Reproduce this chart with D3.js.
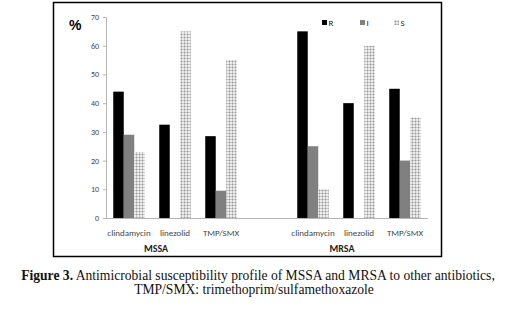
<!DOCTYPE html>
<html>
<head>
<meta charset="utf-8">
<script src="https://cdn.jsdelivr.net/npm/d3@7"></script>
<style>
  body { margin: 0; background: #fff; }
  svg { display: block; }
</style>
</head>
<body>
<svg id="chart" width="507" height="311"></svg>
<script>
// data (percent)
const groups = ["MSSA", "MRSA"];
const drugs = ["clindamycin", "linezolid", "TMP/SMX"];
const series = ["R", "I", "S"];
const yTicks = [0, 10, 20, 30, 40, 50, 60, 70];

const mssaR = [44, 32.5, 28.5];
const mssaI = [29, 0, 9.5];
const mssaS = [23, 65, 55];
const mrsaR = [65, 40, 45];
const mrsaI = [25, 0, 20];
const mrsaS = [10, 60, 35];

const values = {
  MSSA: { R: mssaR, I: mssaI, S: mssaS },
  MRSA: { R: mrsaR, I: mrsaI, S: mrsaS }
};

const svg = d3.select("#chart");

// dotted fill for the S bars
const defs = svg.append("defs");
const pat = defs.append("pattern")
  .attr("id", "dots")
  .attr("patternUnits", "userSpaceOnUse")
  .attr("width", 3).attr("height", 3);
pat.append("rect").attr("width", 3).attr("height", 3).attr("fill", "#ececec");
pat.append("rect").attr("x", 0).attr("y", 1).attr("width", 3).attr("height", 1).attr("fill", "#c6c6c6");
pat.append("rect").attr("x", 1).attr("y", 0).attr("width", 1).attr("height", 3).attr("fill", "#c6c6c6");
pat.append("rect").attr("x", 1).attr("y", 1).attr("width", 1).attr("height", 1).attr("fill", "#999");

const colors = { R: "#000", I: "#808080", S: "url(#dots)" };

// frame around the plot
svg.append("rect")
  .attr("x", 53.5).attr("y", 2.5)
  .attr("width", 388).attr("height", 254)
  .attr("fill", "none").attr("stroke", "#000").attr("stroke-width", 1.5);

// slots: 3 drugs, a blank gap, 3 drugs
const slots = [];
groups.forEach((g, gi) => {
  if (gi > 0) slots.push("gap");
  drugs.forEach(d => slots.push(g + "|" + d));
});

const x = d3.scaleBand().domain(slots).range([106, 428]).paddingInner(0.315).paddingOuter(0.1575);
const xs = d3.scaleBand().domain(series).range([0, x.bandwidth()]);
const y = d3.scaleLinear().domain([0, 70]).range([218, 17]);

// y axis
const yAxis = svg.append("g")
  .attr("transform", "translate(106,0)")
  .call(d3.axisLeft(y).tickValues(yTicks).tickSize(3).tickSizeOuter(0));
yAxis.select(".domain").attr("stroke", "#b5b5b5");
yAxis.selectAll(".tick line").attr("stroke", "#b5b5b5");
yAxis.selectAll(".tick text")
  .attr("x", -7)
  .attr("fill", "#444")
  .attr("font-family", "Calibri, Carlito, 'Liberation Sans', sans-serif")
  .attr("font-size", 8);

// x axis
const xAxis = svg.append("g")
  .attr("transform", "translate(0,218)")
  .call(d3.axisBottom(x).tickSize(0).tickSizeOuter(0).tickFormat(s => s === "gap" ? "" : s.split("|")[1]));
xAxis.select(".domain").attr("stroke", "#b5b5b5").attr("d", "M106,0.5H428");
xAxis.selectAll(".tick text")
  .attr("y", 12)
  .attr("fill", "#444")
  .attr("font-family", "Calibri, Carlito, 'Liberation Sans', sans-serif")
  .attr("font-size", 9);

// bars
const rows = [];
groups.forEach(g => drugs.forEach((d, di) => series.forEach(s => {
  rows.push({ slot: g + "|" + d, s, v: values[g][s][di] });
})));

svg.append("g").selectAll("rect")
  .data(rows.filter(r => r.v > 0))
  .join("rect")
  .attr("x", d => x(d.slot) + xs(d.s))
  .attr("y", d => y(d.v))
  .attr("width", xs.bandwidth())
  .attr("height", d => y(0) - y(d.v))
  .attr("fill", d => colors[d.s]);

// group names
const groupX = { MSSA: 156, MRSA: 342 };
svg.append("g").selectAll("text")
  .data(groups)
  .join("text")
  .attr("x", g => groupX[g])
  .attr("y", 252)
  .attr("text-anchor", "middle")
  .attr("font-family", "Calibri, Carlito, 'Liberation Sans', sans-serif")
  .attr("font-weight", "bold")
  .attr("font-size", 10)
  .attr("fill", "#222")
  .text(g => g);

// % label
svg.append("text")
  .attr("x", 69).attr("y", 30)
  .attr("font-family", "'Liberation Sans', Arial, sans-serif")
  .attr("font-weight", "bold")
  .attr("font-size", 14)
  .text("%");

// legend
const legX = { R: 322, I: 360, S: 394 };
const leg = svg.append("g").selectAll("g")
  .data(series)
  .join("g")
  .attr("transform", s => `translate(${legX[s]},20)`);
leg.append("rect")
  .attr("width", 5).attr("height", 5)
  .attr("fill", s => colors[s]);
leg.append("text")
  .attr("x", 6.5).attr("y", 5.5)
  .attr("font-family", "Calibri, Carlito, 'Liberation Sans', sans-serif")
  .attr("font-size", 9)
  .attr("fill", "#222")
  .text(s => s);

// caption
const cap = svg.append("text")
  .attr("text-anchor", "middle")
  .attr("font-family", "'Liberation Serif', 'DejaVu Serif', serif")
  .attr("font-size", 13.6)
  .attr("fill", "#111");
const l1 = cap.append("tspan").attr("x", 258).attr("y", 280);
l1.append("tspan").attr("font-weight", "bold").text("Figure 3.");
l1.append("tspan").text(" Antimicrobial susceptibility profile of MSSA and MRSA to other antibiotics,");
cap.append("tspan").attr("x", 254).attr("y", 294)
  .text("TMP/SMX: trimethoprim/sulfamethoxazole");
</script>
</body>
</html>
